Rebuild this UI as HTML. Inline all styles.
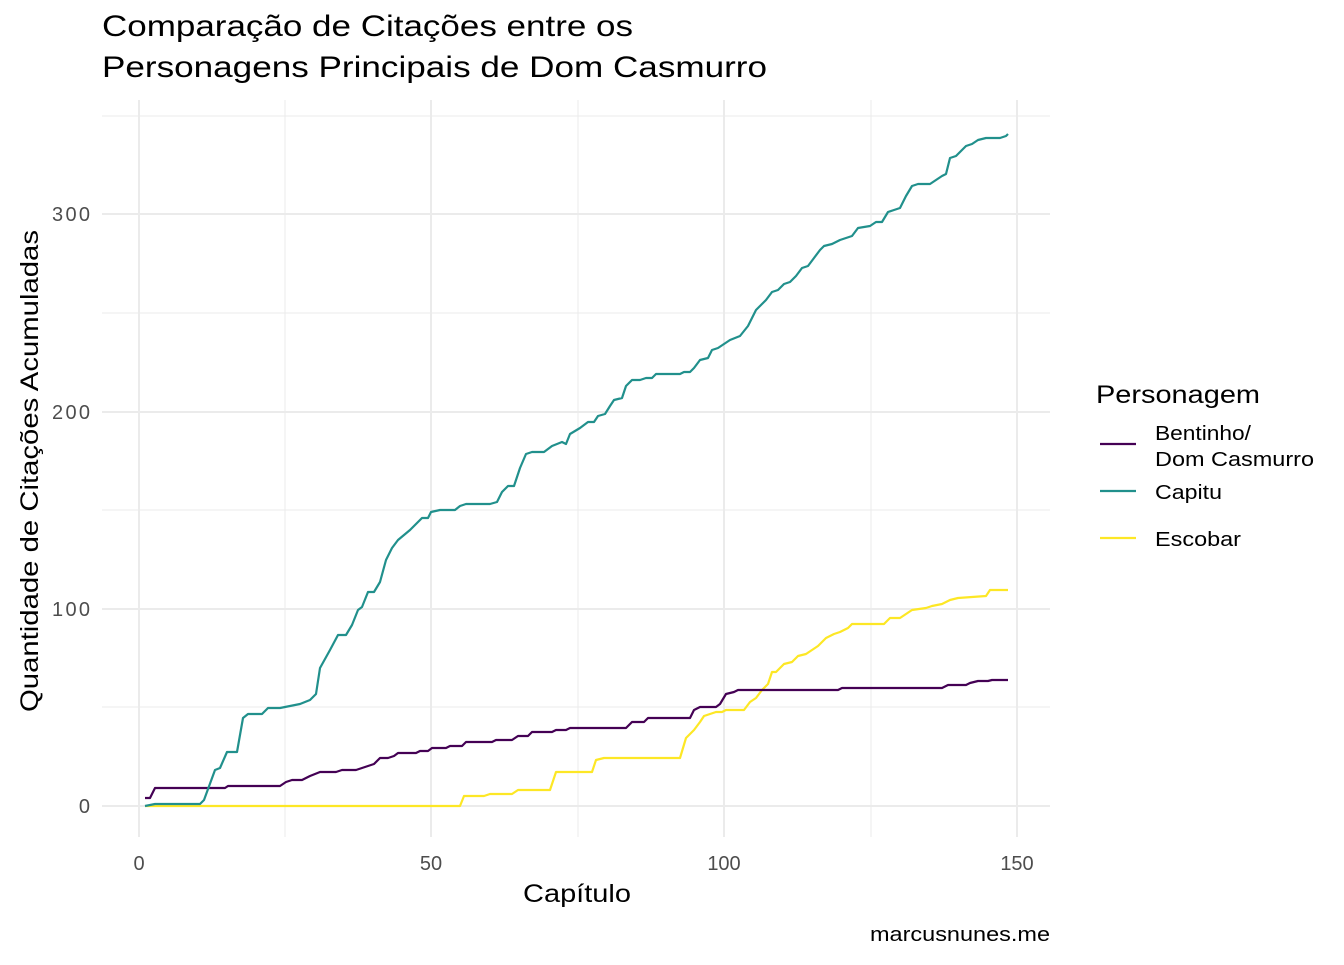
<!DOCTYPE html>
<html><head><meta charset="utf-8"><style>
body{margin:0;background:#fff}
svg text{font-family:"Liberation Sans",Arial,sans-serif}
</style></head><body>
<svg width="1344" height="960" xmlns="http://www.w3.org/2000/svg">
<rect width="1344" height="960" fill="#fff"/>
<g stroke="#ebebeb" fill="none">
<g stroke-width="1">
<line x1="102" x2="1050" y1="707" y2="707"/><line x1="102" x2="1050" y1="510" y2="510"/>
<line x1="102" x2="1050" y1="313" y2="313"/><line x1="102" x2="1050" y1="116" y2="116"/>
<line x1="285" x2="285" y1="100" y2="837"/><line x1="578" x2="578" y1="100" y2="837"/><line x1="871" x2="871" y1="100" y2="837"/>
</g>
<g stroke-width="2">
<line x1="102" x2="1050" y1="806" y2="806"/><line x1="102" x2="1050" y1="609" y2="609"/>
<line x1="102" x2="1050" y1="412" y2="412"/><line x1="102" x2="1050" y1="214" y2="214"/>
<line x1="139" x2="139" y1="100" y2="837"/><line x1="431" x2="431" y1="100" y2="837"/>
<line x1="724" x2="724" y1="100" y2="837"/><line x1="1017" x2="1017" y1="100" y2="837"/>
</g></g>
<g fill="none" stroke-width="2.2" stroke-linejoin="round">
<polyline stroke="#FDE725" points="145,806 460,806 464,796 484,796 490,794 512,794 518,790 550,790 556,772 592,772 596,760 604,758 680,758 686,738 694,730 700,722 704,716 710,714 716,712 722,712 726,710 744,710 750,702 756,698 762,690 768,684 772,672 776,672 784,664 792,662 798,656 806,654 812,650 818,646 826,638 834,634 840,632 848,628 852,624 884,624 890,618 900,618 906,614 912,610 926,608 932,606 942,604 950,600 958,598 986,596 990,590 1008,590"/>
<polyline stroke="#440154" points="145,798 150,798 155,788 225,788 228,786 280,786 286,782 292,780 302,780 310,776 320,772 336,772 342,770 356,770 362,768 368,766 374,764 380,758 388,758 394,756 398,753 416,753 420,751 428,751 432,748 446,748 450,746 462,746 466,742 492,742 496,740 512,740 518,736 528,736 532,732 552,732 556,730 566,730 570,728 626,728 632,722 644,722 648,718 690,718 694,710 700,707 716,707 720,704 726,694 734,692 738,690 838,690 842,688 942,688 948,685 966,685 970,683 978,681 988,681 992,680 1008,680"/>
<polyline stroke="#21908C" points="145,806 155,804 200,804 204,800 215,770 220,768 227,752 237,752 243,718 248,714 262,714 268,708 280,708 285,707 300,704 310,700 316,694 320,668 330,650 338,635 346,635 352,625 358,610 362,607 368,592 374,592 380,582 386,560 392,548 398,540 404,535 410,530 416,524 422,518 428,518 431,512 440,510 455,510 460,506 466,504 490,504 497,502 502,492 508,486 514,486 520,468 526,454 532,452 544,452 552,446 562,442 566,444 570,434 580,428 588,422 594,422 598,416 605,414 610,406 614,400 622,398 626,386 632,380 640,380 646,378 652,378 656,374 680,374 684,372 690,372 694,368 700,360 708,358 712,350 718,348 724,344 730,340 740,336 748,326 756,310 766,300 772,292 778,290 784,284 790,282 796,276 802,268 808,266 814,258 820,250 824,246 832,244 840,240 852,236 858,228 870,226 876,222 882,222 888,212 894,210 900,208 906,196 912,186 918,184 930,184 936,180 942,176 946,174 950,158 956,156 962,150 966,146 972,144 978,140 986,138 1000,138 1006,136 1008,134"/>
</g>
<g fill="#4d4d4d" font-size="20" text-anchor="end">
<text x="90" y="813">0</text><text x="90" y="616" textLength="38">100</text><text x="90" y="419" textLength="38">200</text><text x="90" y="221" textLength="38">300</text>
</g>
<g fill="#4d4d4d" font-size="20" text-anchor="middle">
<text x="139" y="870">0</text><text x="431" y="870">50</text><text x="724" y="870">100</text><text x="1017" y="870">150</text>
</g>
<text x="523" y="902" font-size="25" textLength="108" lengthAdjust="spacingAndGlyphs">Capítulo</text>
<text transform="translate(38,712) rotate(-90)" font-size="25" textLength="482" lengthAdjust="spacingAndGlyphs">Quantidade de Citações Acumuladas</text>
<text x="102" y="36" font-size="30" textLength="531" lengthAdjust="spacingAndGlyphs">Comparação de Citações entre os</text>
<text x="102" y="77" font-size="30" textLength="665" lengthAdjust="spacingAndGlyphs">Personagens Principais de Dom Casmurro</text>
<text x="870" y="941" font-size="20" textLength="180" lengthAdjust="spacingAndGlyphs">marcusnunes.me</text>
<text x="1096" y="403" font-size="25" textLength="164" lengthAdjust="spacingAndGlyphs">Personagem</text>
<line x1="1100" x2="1136" y1="444" y2="444" stroke="#440154" stroke-width="2.2"/>
<line x1="1100" x2="1136" y1="491" y2="491" stroke="#21908C" stroke-width="2.2"/>
<line x1="1100" x2="1136" y1="538" y2="538" stroke="#FDE725" stroke-width="2.2"/>
<g font-size="20"><text x="1155" y="440" textLength="96" lengthAdjust="spacingAndGlyphs">Bentinho/</text><text x="1155" y="466" textLength="159" lengthAdjust="spacingAndGlyphs">Dom Casmurro</text>
<text x="1155" y="499" textLength="67" lengthAdjust="spacingAndGlyphs">Capitu</text><text x="1155" y="546" textLength="86" lengthAdjust="spacingAndGlyphs">Escobar</text></g>
</svg>
</body></html>
